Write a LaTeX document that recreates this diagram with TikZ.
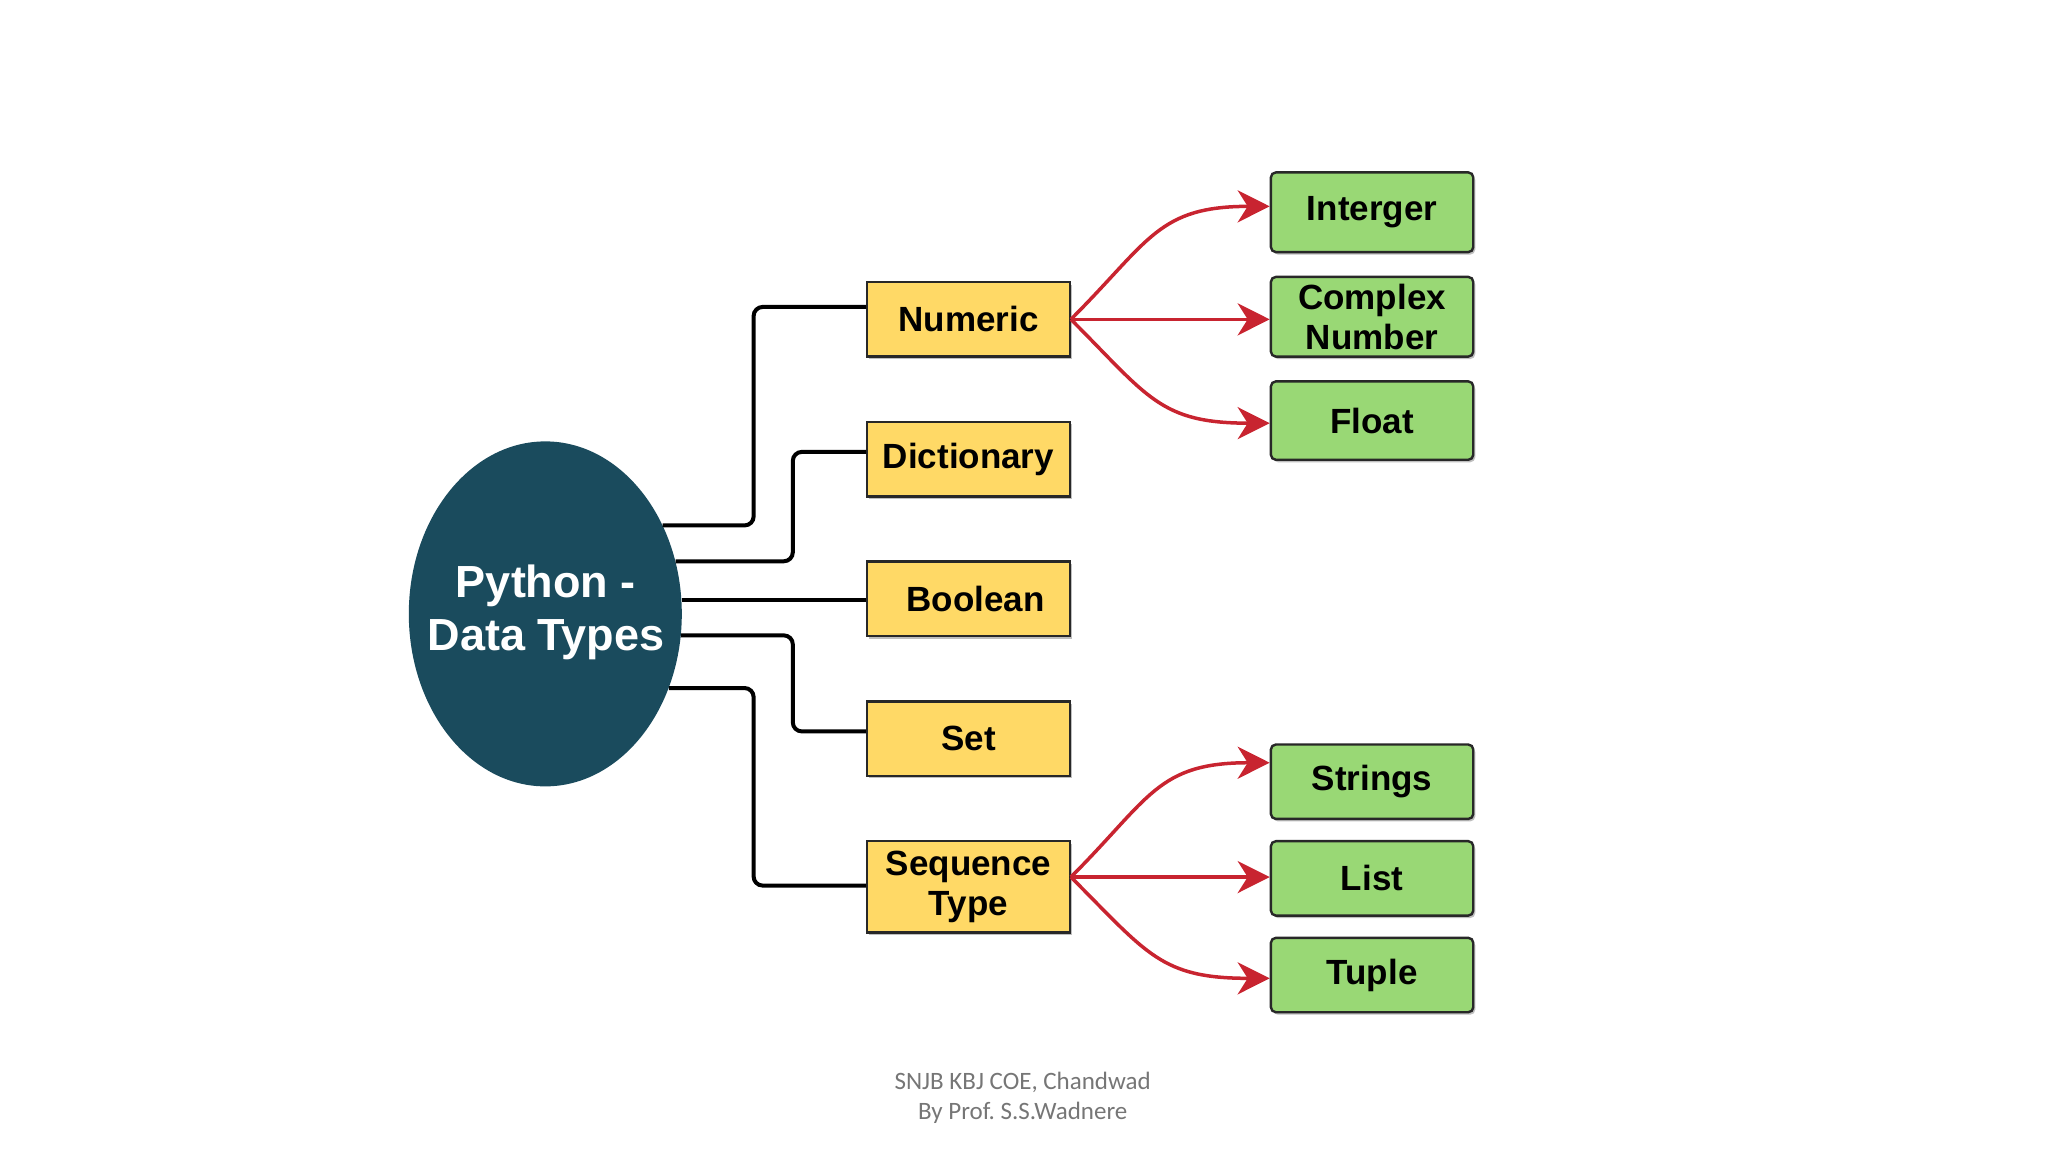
\documentclass[tikz,border=0pt]{standalone}
\usepackage{fontspec}
\setmainfont{Liberation Sans}
\newfontfamily\footfont{Carlito}
\usetikzlibrary{shapes.geometric,arrows.meta,shadows}
\frenchspacing
\definecolor{pyteal}{RGB}{26,75,93}
\definecolor{boxyellow}{RGB}{255,217,102}
\definecolor{boxgreen}{RGB}{153,216,117}
\definecolor{arrred}{RGB}{200,36,48}
\definecolor{edgedark}{RGB}{40,40,40}
\definecolor{footgray}{RGB}{118,118,118}
\tikzset{
  ybox/.style={draw=edgedark, line width=2.4pt, fill=boxyellow, minimum width=202.4pt,
    minimum height=74.4pt, inner sep=0pt, align=center,
    font=\fontsize{35}{40}\selectfont\bfseries,
    drop shadow={shadow xshift=2pt, shadow yshift=-2.5pt, opacity=0.25, fill=black}},
  gbox/.style={draw=edgedark, line width=2.4pt, fill=boxgreen, rounded corners=5pt,
    minimum width=202.4pt, minimum height=74.4pt, inner sep=0pt, align=center,
    font=\fontsize{35}{40}\selectfont\bfseries,
    drop shadow={shadow xshift=2pt, shadow yshift=-2.5pt, opacity=0.25, fill=black}},
  conn/.style={draw=black, line width=4pt, rounded corners=9pt},
  arr/.style={draw=arrred, line width=3.5pt, -{Stealth[length=32pt,width=32pt,inset=10pt]}},
}
\begin{document}
\begin{tikzpicture}[x=1.30612pt, y=-1.30612pt]
\useasboundingbox (0,0) rectangle (1568,882);
% central ellipse
\node[ellipse, fill=pyteal, minimum width=273pt, minimum height=345pt, inner sep=0pt] (py) at (417.5,470) {};
\node[text=white, align=center, font=\fontsize{45}{53}\selectfont\bfseries] (pyt) at (418,469) {Python -\\Data Types};
% yellow boxes
\node[ybox] (num) at (741.5,244.5) {Numeric};
\node[ybox] (dic) at (741.5,351.5) {Dictionary};
\node[ybox] (boo) at (741.5,458.5) {\hspace*{14pt}Boolean};
\node[ybox] (set) at (741.5,565.5) {Set};
\node[ybox, minimum height=91.4pt] (seq) at (741.5,679) {Sequence\\Type};
% green boxes
\node[gbox, minimum height=79.7pt] (int) at (1050.5,162.5) {Interger};
\node[gbox, minimum height=79.7pt] (cpx) at (1050.5,242.5) {Complex\\Number};
\node[gbox, minimum height=78.4pt] (flo) at (1050.5,322) {Float};
\node[gbox] (str) at (1050.5,598.5) {Strings};
\node[gbox] (lis) at (1050.5,672.5) {List};
\node[gbox] (tup) at (1050.5,746.5) {Tuple};
% bend columns
\coordinate (colA) at (577,0);
\coordinate (colB) at (607,0);
% entry points on yellow boxes
\coordinate (numin) at ([yshift=12.4pt]num.west);
\coordinate (dicin) at ([yshift=7.2pt]dic.west);
\coordinate (setin) at ([yshift=7.2pt]set.west);
\coordinate (seqin) at ([yshift=1.3pt]seq.west);
% black connectors
\draw[conn] (py.37.7) -| (numin -| colA) -- (numin);
\draw[conn] (py.22.7) -| (dicin -| colB) -- (dicin);
\draw[conn, rounded corners=0pt] (py.6.6) -- (py.6.6 -| boo.west);
\draw[conn] (py.-9.8) -| (setin -| colB) -- (setin);
\draw[conn] (py.-31) -| (seqin -| colA) -- (seqin);
% red arrows
\coordinate (numout) at (num.east);
\coordinate (seqout) at ([yshift=9.8pt]seq.east);
\coordinate (intin) at ([yshift=5.9pt]int.west);
\coordinate (cpxin) at (cpx.west |- numout);
\coordinate (floin) at ([yshift=-2.6pt]flo.west);
\coordinate (strin) at ([yshift=19pt]str.west);
\coordinate (lisin) at (lis.west |- seqout);
\coordinate (tupin) at ([yshift=-3.3pt]tup.west);
\draw[arr] (numout) to[out=45, in=180, looseness=1.25] (intin);
\draw[arr] (numout) -- (cpxin);
\draw[arr] (numout) to[out=-45, in=180, looseness=1.25] (floin);
\draw[arr] (seqout) to[out=45, in=180, looseness=1.25] (strin);
\draw[arr] (seqout) -- (lisin);
\draw[arr] (seqout) to[out=-45, in=180, looseness=1.25] (tupin);
% footer
\node[text=footgray, align=center, font=\footfont\fontsize{25}{30}\selectfont] (foot) at (783,840.5) {SNJB KBJ COE, Chandwad\\By Prof. S.S.Wadnere};
\end{tikzpicture}
\end{document}
